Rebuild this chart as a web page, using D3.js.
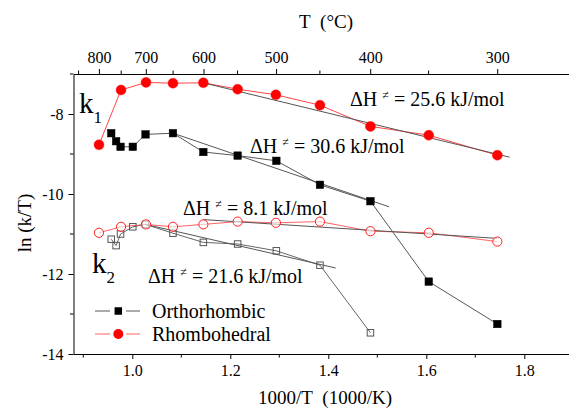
<!DOCTYPE html>
<html>
<head>
<meta charset="utf-8">
<script src="https://cdn.jsdelivr.net/npm/d3@7"></script>
<style>
	body { margin: 0; background: #fff; }
	svg { display: block; }
	text { font-family: "Liberation Serif", "DejaVu Serif", serif; fill: #000; }
	.axis text { font-size: 16px; }
	.axis path, .axis line { stroke: #000; }
</style>
</head>
<body>
<div class="box"></div>
<script>
// 1000/T values (1000/K), one per temperature step 800..300 C
var xRhomb = [0.932, 0.977, 1.028, 1.083, 1.145, 1.215, 1.293, 1.383, 1.486, 1.605, 1.745];
var rhombK1 = [-8.77, -7.40, -7.21, -7.23, -7.22, -7.38, -7.52, -7.78, -8.31, -8.53, -9.03];
var rhombK2 = [-10.97, -10.82, -10.76, -10.82, -10.76, -10.69, -10.72, -10.69, -10.93, -10.97, -11.19];

var xOrtho = [0.957, 0.967, 0.976, 1.001, 1.027, 1.083, 1.145, 1.215, 1.294, 1.383, 1.486, 1.605, 1.745];
var orthoK1 = [-8.48, -8.68, -8.82, -8.82, -8.51, -8.48, -8.95, -9.04, -9.17, -9.77, -10.18, -12.19, -13.25];
var orthoK2 = [-11.13, -11.29, -11.00, -10.82, -10.76, -10.98, -11.21, -11.25, -11.42, -11.78, -13.47];

// linear fits, end points
var fits = [
	{name: 'rk1', pts: [[1.145, -7.22], [1.770, -9.08]]},
	{name: 'ok1', pts: [[1.083, -8.48], [1.524, -10.32]]},
	{name: 'rk2', pts: [[1.145, -10.64], [1.745, -11.11]]},
	{name: 'ok2', pts: [[1.027, -10.76], [1.415, -11.85]]}
];

var fitLabels = [
	{x: 350, y: 106, value: '25.6'},
	{x: 250, y: 153, value: '30.6'},
	{x: 183, y: 215, value: '8.1'},
	{x: 148, y: 283, value: '21.6'}
];

var bottomTicks = [1.0, 1.2, 1.4, 1.6, 1.8];
var bottomMinor = [0.9, 1.1, 1.3, 1.5, 1.7];
var leftTicks = [-8, -10, -12, -14];
var leftMinor = [-7, -9, -11, -13];
var topTicks = [800, 700, 600, 500, 400, 300];
var topMinor = [850, 750, 650, 550, 450, 350];

var width = 569, height = 411;
var plotLeft = 73.5, plotTop = 74, plotBottom = 354;
var serif = '"Liberation Serif", "DejaVu Serif", serif';

var svg = d3.select('.box')
	.append('svg')
	.attr('width', width)
	.attr('height', height);

var x = d3.scaleLinear().domain([0.88, 1.9]).range([plotLeft, plotLeft + 1.02 * 490]);
var y = d3.scaleLinear().domain([-14, -7]).range([plotBottom, plotTop]);

function toX(c) { return 1000 / (c + 273.15); }

// axes
var gB = svg.append('g').attr('class', 'axis').attr('transform', 'translate(0,' + plotBottom + ')');
gB.call(d3.axisBottom(x).tickValues(bottomTicks).tickSize(5).tickSizeOuter(0).tickPadding(6)
	.tickFormat(d3.format('.1f')));
gB.selectAll('.minor')
	.data(bottomMinor)
	.enter()
	.append('line')
		.attr('x1', function(d) { return x(d); })
		.attr('x2', function(d) { return x(d); })
		.attr('y1', 0)
		.attr('y2', 3.5)
		.attr('stroke', '#000');

var gL = svg.append('g').attr('class', 'axis').attr('transform', 'translate(' + plotLeft + ',0)');
gL.call(d3.axisLeft(y).tickValues(leftTicks).tickSize(5).tickSizeOuter(0).tickPadding(5)
	.tickFormat(function(d) { return '-' + Math.abs(d); }));
gL.selectAll('.minor')
	.data(leftMinor)
	.enter()
	.append('line')
		.attr('y1', function(d) { return y(d); })
		.attr('y2', function(d) { return y(d); })
		.attr('x1', 0)
		.attr('x2', -3.5)
		.attr('stroke', '#000');

var gT = svg.append('g').attr('class', 'axis').attr('transform', 'translate(0,' + plotTop + ')');
gT.call(d3.axisTop(x).tickValues(topTicks.map(toX)).tickSize(5).tickSizeOuter(0).tickPadding(6)
	.tickFormat(function(d, i) { return topTicks[i]; }));
gT.selectAll('.minor')
	.data(topMinor)
	.enter()
	.append('line')
		.attr('x1', function(d) { return x(toX(d)); })
		.attr('x2', function(d) { return x(toX(d)); })
		.attr('y1', 0)
		.attr('y2', -3.5)
		.attr('stroke', '#000');

svg.selectAll('.axis').attr('font-family', serif).attr('font-size', 16);

// axis titles
svg.append('text')
	.attr('x', 326).attr('y', 28)
	.attr('text-anchor', 'middle')
	.style('font-size', '19px')
	.text('T\u00a0\u00a0(\u00b0C)');

svg.append('text')
	.attr('x', 325).attr('y', 404)
	.attr('text-anchor', 'middle')
	.style('font-size', '19px')
	.text('1000/T\u00a0\u00a0(1000/K)');

svg.append('text')
	.attr('transform', 'translate(31,223) rotate(-90)')
	.attr('text-anchor', 'middle')
	.style('font-size', '19px')
	.text('ln (k/T)');

// data lines
var line = d3.line()
	.x(function(d) { return x(d[0]); })
	.y(function(d) { return y(d[1]); });

function zip(xs, ys) { return ys.map(function(v, i) { return [xs[i], v]; }); }

var series = [
	{pts: zip(xOrtho, orthoK1), stroke: '#444', type: 'sq', fill: '#000'},
	{pts: zip(xOrtho, orthoK2), stroke: '#555', type: 'sq', fill: 'none'},
	{pts: zip(xRhomb, rhombK1), stroke: '#ff3030', type: 'ci', fill: '#ff0000'},
	{pts: zip(xRhomb, rhombK2), stroke: '#ff5050', type: 'ci', fill: 'none'}
];

series.forEach(function(s) {
	svg.append('path')
		.attr('d', line(s.pts))
		.attr('fill', 'none')
		.attr('stroke', s.stroke)
		.attr('stroke-width', 0.9);
});

svg.selectAll('path.fit')
	.data(fits)
	.enter()
	.append('path')
		.attr('class', 'fit')
		.attr('d', function(d) { return line(d.pts); })
		.attr('fill', 'none')
		.attr('stroke', '#555')
		.attr('stroke-width', 1);

series.forEach(function(s) {
	if (s.type === 'sq') {
		var sz = s.fill === 'none' ? 6.5 : 7.5;
		svg.selectAll(null)
			.data(s.pts)
			.enter()
			.append('rect')
				.attr('x', function(d) { return x(d[0]) - sz / 2; })
				.attr('y', function(d) { return y(d[1]) - sz / 2; })
				.attr('width', sz)
				.attr('height', sz)
				.style('fill', s.fill === 'none' ? '#fff' : s.fill)
				.style('fill-opacity', s.fill === 'none' ? 0 : 1)
				.style('stroke', s.fill === 'none' ? '#555' : '#000')
				.style('stroke-width', s.fill === 'none' ? 1 : 0.5);
	} else {
		svg.selectAll(null)
			.data(s.pts)
			.enter()
			.append('circle')
				.attr('cx', function(d) { return x(d[0]); })
				.attr('cy', function(d) { return y(d[1]); })
				.attr('r', s.fill === 'none' ? 4.6 : 5)
				.style('fill', s.fill === 'none' ? '#fff' : s.fill)
				.style('fill-opacity', s.fill === 'none' ? 0.6 : 1)
				.style('stroke', '#ff2020')
				.style('stroke-width', s.fill === 'none' ? 1 : 0.5);
	}
});

// k1 / k2 labels
function kLabel(px, py, sub) {
	var t = svg.append('text').attr('x', px).attr('y', py).style('font-size', '29px');
	t.append('tspan').text('k');
	t.append('tspan').attr('dy', 10).style('font-size', '17px').text(sub);
}
kLabel(79, 113, '1');
kLabel(92, 273, '2');

// activation enthalpy labels
fitLabels.forEach(function(d) {
	var t = svg.append('text').attr('x', d.x).attr('y', d.y).style('font-size', '20px');
	t.append('tspan').text('\u0394H ');
	t.append('tspan').attr('dy', -7).style('font-size', '12px').text('\u2260');
	t.append('tspan').attr('dy', 7).text(' = ' + d.value + ' kJ/mol');
});

// legend
var legend = [
	{label: 'Orthorhombic', y: 311, stroke: '#444', type: 'sq', fill: '#000'},
	{label: 'Rhombohedral', y: 334, stroke: '#ff5050', type: 'ci', fill: '#ff0000'}
];

legend.forEach(function(d) {
	[[95, 110], [126, 140]].forEach(function(seg) {
		svg.append('line')
			.attr('x1', seg[0]).attr('x2', seg[1])
			.attr('y1', d.y).attr('y2', d.y)
			.attr('stroke', d.stroke)
			.attr('stroke-width', 0.9);
	});
	if (d.type === 'sq') {
		svg.append('rect')
			.attr('x', 118.3 - 3.75).attr('y', d.y - 3.75)
			.attr('width', 7.5).attr('height', 7.5)
			.style('fill', d.fill);
	} else {
		svg.append('circle')
			.attr('cx', 118.3).attr('cy', d.y)
			.attr('r', 5)
			.style('fill', d.fill);
	}
	svg.append('text')
		.attr('x', 152).attr('y', d.y + 6.5)
		.style('font-size', '20px')
		.text(d.label);
});
</script>
</body>
</html>
